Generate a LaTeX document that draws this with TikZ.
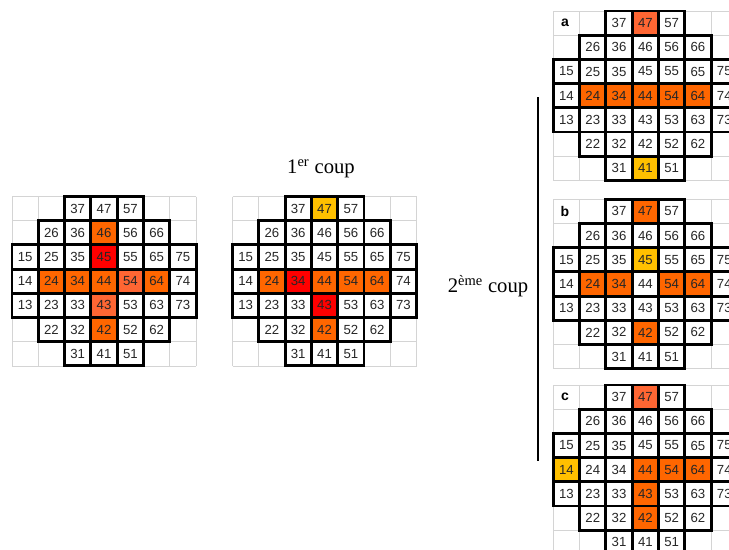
\documentclass[tikz,border=0pt]{standalone}
\usepackage{fontspec}
\setmainfont{Liberation Serif}
\setsansfont{Liberation Sans}
\usetikzlibrary{backgrounds}
\definecolor{orangevif}{HTML}{FF6600}
\definecolor{rouge}{HTML}{FF0000}
\definecolor{corail}{HTML}{FF6633}
\definecolor{jaune}{HTML}{FFC000}
\definecolor{trait}{HTML}{D4D4D4}
\newcommand{\largcase}{26.3}
\newcommand{\hautcase}{24.2}
\tikzset{
  quadrillage/.style={draw=trait,line width=0.6pt},
  case/.style={draw=black,line width=2.2pt,minimum width=19.7pt,minimum height=18.15pt,
    inner sep=0pt,outer sep=0pt,font=\sffamily\fontsize{9.9}{11}\selectfont,text=black!85},
  lettre/.style={font=\sffamily\bfseries\fontsize{10.5}{12}\selectfont},
  titre/.style={font=\fontsize{15.5}{18}\selectfont},
  separ/.style={line width=1.6pt},
}
% une grille : nom, coin haut gauche (x, y)
\newcommand{\grille}[3]{%
  \foreach \i in {0,...,7}{
    \draw[quadrillage] ({#2+\i*\largcase},#3) -- ({#2+\i*\largcase},{#3+7*\hautcase});
    \draw[quadrillage] (#2,{#3+\i*\hautcase}) -- ({#2+7*\largcase},{#3+\i*\hautcase});
  }
  \foreach \ry/\deb/\fin in {7/3/5,6/2/6,5/1/7,4/1/7,3/1/7,2/2/6,1/3/5}
    \foreach \cx in {\deb,...,\fin}
      \node[case] (#1-\cx\ry) at ({#2+(\cx-0.5)*\largcase},{#3+(7.5-\ry)*\hautcase}) {\cx\ry};
}
\begin{document}
\begin{tikzpicture}[x=0.75pt,y=-0.75pt]
\useasboundingbox (0,0) rectangle (729,550);
\clip (0,0) rectangle (729,550);

\grille{g1}{12}{196.5}
\grille{g2}{232.5}{196.5}
\grille{ga}{553.3}{11}
\grille{gb}{553.3}{199.3}
\grille{gc}{553.3}{385}

% cases colorees
\begin{scope}[on background layer]
\foreach \g/\n/\f in {g1/46/orangevif, g1/45/rouge, g1/24/orangevif, g1/34/orangevif,
    g1/44/orangevif, g1/54/corail, g1/64/orangevif, g1/43/corail, g1/42/orangevif,
    g2/47/jaune, g2/24/orangevif, g2/34/rouge, g2/44/orangevif, g2/54/orangevif,
    g2/64/orangevif, g2/43/rouge, g2/42/orangevif,
    ga/47/corail, ga/24/orangevif, ga/34/orangevif, ga/44/orangevif, ga/54/orangevif,
    ga/64/orangevif, ga/41/jaune,
    gb/47/orangevif, gb/45/jaune, gb/24/orangevif, gb/34/orangevif, gb/54/orangevif,
    gb/64/orangevif, gb/42/orangevif,
    gc/47/corail, gc/14/jaune, gc/44/orangevif, gc/54/orangevif, gc/64/orangevif,
    gc/43/orangevif, gc/42/orangevif}
  \fill[\f] (\g-\n.south west) rectangle (\g-\n.north east);
\end{scope}

\node[lettre] (lettre-a) at (565,23) {a};
\node[lettre] (lettre-b) at (565,211) {b};
\node[lettre] (lettre-c) at (565,397) {c};

\node[titre] (coup1) at (321,169) {1\textsuperscript{er} coup};
\node[titre] (coup2) at (488,286) {2\textsuperscript{ème} coup};

\coordinate (sep-haut) at (538,97);
\coordinate (sep-bas) at (538,461);
\draw[separ] (sep-haut) -- (sep-bas);
\end{tikzpicture}
\end{document}
